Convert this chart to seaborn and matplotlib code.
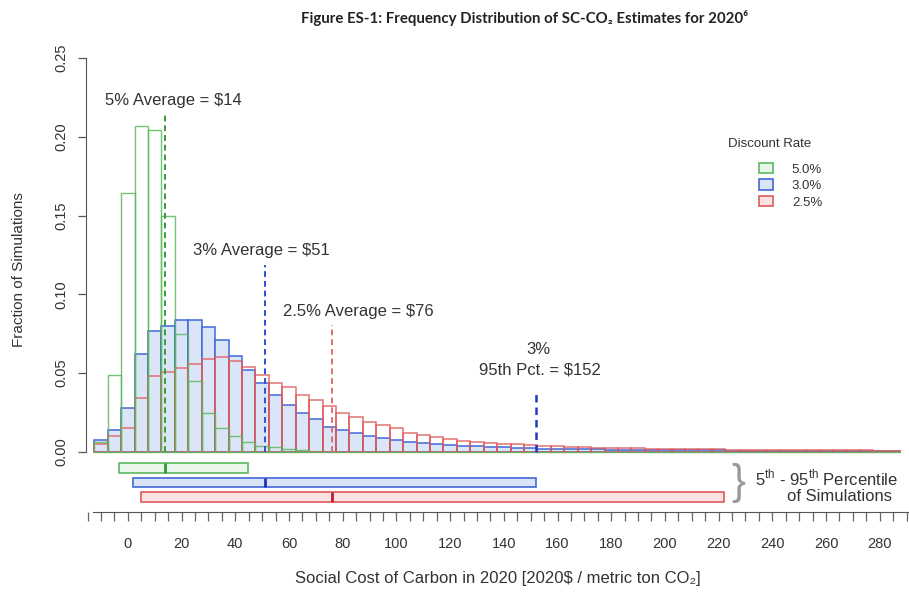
import numpy as np
import pandas as pd
import matplotlib
matplotlib.use("Agg")
import matplotlib.pyplot as plt
from matplotlib.ticker import MultipleLocator, FixedLocator
from matplotlib.patches import Patch
import seaborn as sns

# ---- data: fraction of simulations per $5 bin (bin centres -10 ... 285) ----
bin_centers = list(range(-10, 290, 5))

frac_5pct = [0.006, 0.049, 0.164, 0.207, 0.204, 0.150, 0.075, 0.045, 0.025, 0.015,
             0.010, 0.006, 0.004, 0.003, 0.002, 0.001]

frac_3pct = [0.0076, 0.014, 0.028, 0.062, 0.077, 0.080, 0.084, 0.084, 0.079, 0.071,
             0.061, 0.052, 0.044, 0.036, 0.030, 0.025, 0.021, 0.016, 0.014, 0.012,
             0.010, 0.009, 0.0077, 0.0065, 0.0058, 0.0050, 0.0045, 0.0040, 0.0036, 0.0032,
             0.0029, 0.0026, 0.0023, 0.0021, 0.0019, 0.0018, 0.0017, 0.0016, 0.0015, 0.0014,
             0.0013, 0.0013, 0.0012, 0.0011, 0.0011, 0.0010, 0.0010, 0.0009, 0.0009, 0.0009,
             0.0008, 0.0008, 0.0008, 0.0007, 0.0007, 0.0007, 0.0006, 0.0006, 0.0006, 0.0006]

frac_25pct = [0.005, 0.010, 0.015, 0.034, 0.048, 0.051, 0.053, 0.056, 0.059, 0.060,
              0.058, 0.054, 0.049, 0.044, 0.041, 0.036, 0.033, 0.029, 0.025, 0.022,
              0.019, 0.017, 0.015, 0.012, 0.011, 0.0095, 0.0083, 0.0072, 0.0064, 0.0058,
              0.0053, 0.0048, 0.0044, 0.0040, 0.0036, 0.0033, 0.0030, 0.0028, 0.0026, 0.0024,
              0.0022, 0.0021, 0.0020, 0.0019, 0.0018, 0.0017, 0.0016, 0.0015, 0.0014, 0.0014,
              0.0013, 0.0012, 0.0012, 0.0011, 0.0011, 0.0010, 0.0010, 0.0010, 0.0009, 0.0009]

rates = ["5.0%", "3.0%", "2.5%"]
averages = [14, 51, 76]
pct_05 = [-3.4, 2.0, 5.0]
pct_95 = [44.7, 152.0, 222.0]
pct95_3pct = 152

x_ticks = list(range(0, 281, 20))
y_ticks = [0.00, 0.05, 0.10, 0.15, 0.20, 0.25]

# ---- styling ----
sns.set_style("white")
plt.rcParams["font.family"] = ["Liberation Sans", "DejaVu Sans"]
plt.rcParams["mathtext.fontset"] = "custom"
plt.rcParams["mathtext.rm"] = "Liberation Sans"
text_col = "#333333"

green_edge, green_fill = "#5cb85c", "#eaf6ea"
blue_edge, blue_fill = "#4169d8", "#dbe5f8"
red_edge, red_fill = "#e05a5a", "#fbe3e3"

W, H = 909, 593
fig = plt.figure(figsize=(W / 100, H / 100), dpi=100)
# axes box in pixels: left 86, right 909, top 50, bottom 515
ax = fig.add_axes([86 / W, (H - 515) / H, (909 - 86) / W, (515 - 50) / H])

bin_kw = dict(binwidth=5, binrange=(-12.5, 287.5), stat="count")


def hist_frame(values):
    return pd.DataFrame({"scc": bin_centers[:len(values)], "frac": values})


# histograms (3% filled, 2.5% and 5% as outlines on top)
sns.histplot(data=hist_frame(frac_3pct), x="scc", weights="frac", **bin_kw,
             color=blue_fill, edgecolor=blue_edge, linewidth=1.1, alpha=1, ax=ax)
sns.histplot(data=hist_frame(frac_25pct), x="scc", weights="frac", **bin_kw,
             fill=False, color=red_edge, linewidth=1.1, alpha=0.85, ax=ax)
sns.histplot(data=hist_frame(frac_5pct), x="scc", weights="frac", **bin_kw,
             fill=False, color=green_edge, linewidth=1.0, alpha=0.85, ax=ax)

ax.set_xlim(-15.6, 290.9)
ax.set_ylim(-0.0400, 0.2550)

# dashed average / percentile lines
ax.vlines(averages[0], 0, 0.2157, colors="#3a9a3a", linestyles=(0, (3, 2)), lw=1.4)
ax.vlines(averages[1], 0, 0.1187, colors="#2f4fd0", linestyles=(0, (3, 2)), lw=1.4)
ax.vlines(averages[2], 0, 0.0806, colors="#e07070", linestyles=(0, (3, 2)), lw=1.4)
ax.vlines(pct95_3pct, 0, 0.0374, colors="#2438c8", linestyles=(0, (3, 2)), lw=1.8)

ann_kw = dict(fontsize=12, color=text_col)
ax.text(-8.6, 0.2227, "5% Average = $14", ha="left", va="center", **ann_kw)
ax.text(24.2, 0.1275, "3% Average = $51", ha="left", va="center", **ann_kw)
ax.text(57.7, 0.0888, "2.5% Average = $76", ha="left", va="center", **ann_kw)
ax.text(152.7, 0.0647, "3%", ha="center", va="center", **ann_kw)
ax.text(153.5, 0.0520, "95th Pct. = $152", ha="center", va="center", **ann_kw)

# 5th - 95th percentile ranges
bar_y = [-0.0102, -0.0192, -0.0286]
bar_h = 0.0058
edge_cols = [green_edge, blue_edge, red_edge]
fill_cols = [green_fill, blue_fill, red_fill]
mark_cols = ["#2e9a2e", "#1f35b8", "#c01f2f"]
for lo, hi, avg, yy, ec, fc, mc in zip(pct_05, pct_95, averages, bar_y,
                                        edge_cols, fill_cols, mark_cols):
    ax.barh(yy, hi - lo, left=lo, height=bar_h, color=fc, edgecolor=ec, linewidth=1.2)
    ax.vlines(avg, yy - bar_h / 2, yy + bar_h / 2, colors=mc, lw=2)

ax.text((738 - 86) / 823, -0.0194, "}", transform=ax.get_yaxis_transform(),
        fontsize=30, color="#999999", ha="center", va="center", fontweight="light")
ax.text(233.5, -0.0165, r"5$^{\mathrm{th}}$ - 95$^{\mathrm{th}}$ Percentile",
        ha="left", va="center", **ann_kw)
ax.text(265, -0.0282, "of Simulations", ha="center", va="center", **ann_kw)

# axes
for s in ["top", "right"]:
    ax.spines[s].set_visible(False)
ax.spines["left"].set_bounds(0, 0.25)
ax.spines["left"].set_color("#555555")
ax.spines["bottom"].set_position(("data", -0.0378))
ax.spines["bottom"].set_bounds(-13, 291)
ax.spines["bottom"].set_color("#555555")
ax.set_yticks(y_ticks)
ax.set_yticklabels([f"{v:.2f}" for v in y_ticks])
ax.xaxis.set_major_locator(FixedLocator(x_ticks))
ax.xaxis.set_minor_locator(MultipleLocator(5))
ax.set_xticklabels([str(v) for v in x_ticks])
ax.tick_params(axis="x", which="both", direction="out", length=6.5, width=0.9,
               color="#666666", labelsize=10.5, labelcolor=text_col, pad=12)
ax.tick_params(axis="y", direction="out", length=6, width=0.9, color="#555555",
               labelsize=10.5, labelcolor=text_col, pad=7)
plt.setp(ax.get_yticklabels(), rotation=90, va="center", ha="right")
ax.tick_params(axis="both", which="both", bottom=True, left=True)

ax.set_xlabel("Social Cost of Carbon in 2020 [2020$ / metric ton CO\u2082]",
              fontsize=12, color=text_col)
ax.xaxis.set_label_coords(0.5, -0.1355)
ax.xaxis.label.set_va("center")
ax.set_ylabel("Fraction of Simulations", fontsize=11, color=text_col)
ax.yaxis.set_label_coords(-0.082, 0.527)
ax.yaxis.label.set_va("center")

# legend (title drawn separately so it sits centred above the entries)
handles = [Patch(facecolor=fc, edgecolor=ec, linewidth=1.2) for fc, ec in
           zip(fill_cols, edge_cols)]
fig.legend(handles, rates, loc="upper left",
           bbox_to_anchor=(747 / W, 1 - 151 / H), frameon=False,
           fontsize=9.5, handlelength=1.1, handleheight=0.8,
           labelspacing=0.3, handletextpad=1.4, labelcolor=text_col)
fig.text(770 / W, 1 - 144 / H, "Discount Rate", ha="center", va="center",
         fontsize=9.5, color=text_col)

fig.text(525 / W, 1 - 18 / H,
         "Figure ES-1: Frequency Distribution of SC-CO\u2082 Estimates for 2020\u2076",
         ha="center", va="center", fontsize=10.8, fontweight="bold",
         family=["Lato", "DejaVu Sans"], color="#222222")

fig.savefig("out.png", dpi=100)
